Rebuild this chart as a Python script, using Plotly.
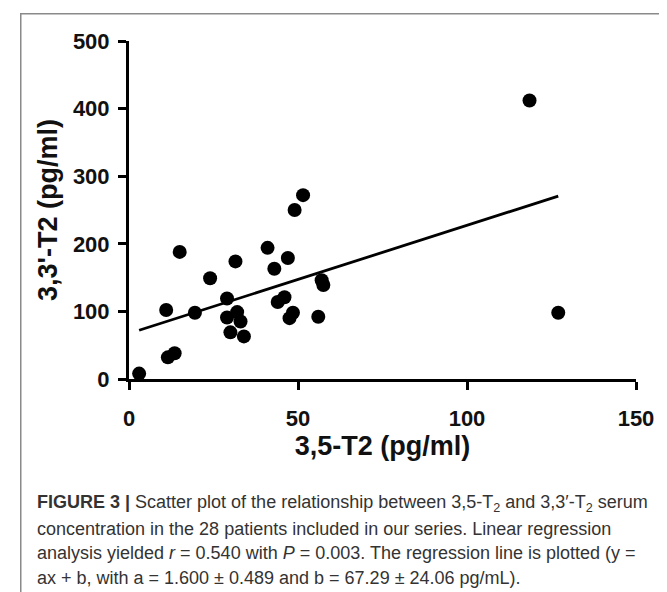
import plotly.graph_objects as go

# Data
x_35T2 = [3, 11, 11.5, 13.5, 15, 19.5, 24, 29, 29, 30, 31.5, 32, 33, 34,
          41, 43, 44, 46, 47, 47.5, 48.5, 49, 51.5, 56, 57, 57.5, 118.5, 127]
y_33T2 = [8, 102, 32, 38, 188, 98, 149, 119, 91, 69, 174, 99, 85, 63,
          194, 163, 114, 121, 179, 90, 98, 250, 272, 92, 146, 139, 412, 98]
slope = 1.600
intercept = 67.29
x_ticks = [0, 50, 100, 150]
y_ticks = [0, 100, 200, 300, 400, 500]
caption_lines = [
    "<b>FIGURE 3 |</b> Scatter plot of the relationship between 3,5-T<sub>2</sub> and 3,3′-T<sub>2</sub> serum",
    "concentration in the 28 patients included in our series. Linear regression",
    "analysis yielded <i>r</i> = 0.540 with <i>P</i> = 0.003. The regression line is plotted (y =",
    "ax + b, with a = 1.600 ± 0.489 and b = 67.29 ± 24.06 pg/mL).",
]

W, H = 667, 592
L, R, T, B = 121, 38.7, 33.3, 221.3
PW, PH = W - L - R, H - T - B


def px(xp):
    return (xp - L) / PW


def py(yp):
    return (H - yp - B) / PH


xmin, xmax = min(x_35T2), max(x_35T2)
line_x = [xmin, xmax]
line_y = [slope * v + intercept for v in line_x]

fig = go.Figure()
fig.add_trace(go.Scatter(x=line_x, y=line_y, mode="lines",
                         line=dict(color="black", width=2.8),
                         showlegend=False, cliponaxis=False))
fig.add_trace(go.Scatter(x=x_35T2, y=y_33T2, mode="markers",
                         marker=dict(color="black", size=14),
                         showlegend=False, cliponaxis=False))

axis_font = dict(family="Liberation Sans, Arial, sans-serif", size=22, color="#111", weight="bold")
title_font = dict(family="Liberation Sans, Arial, sans-serif", size=27, color="#111", weight="bold")

fig.update_xaxes(range=[0, 150], tickvals=x_ticks, showgrid=False, zeroline=False,
                 showline=True, linecolor="black", linewidth=3,
                 ticks="outside", ticklen=8, tickwidth=3, tickcolor="black",
                 tickfont=axis_font, ticklabelstandoff=10,
                 title=dict(text="3,5-T2 (pg/ml)", font=title_font, standoff=4))
fig.update_yaxes(range=[0, 500], tickvals=y_ticks, showgrid=False, zeroline=False,
                 showline=True, linecolor="black", linewidth=3,
                 ticks="outside", ticklen=8, tickwidth=3, tickcolor="black",
                 tickfont=axis_font, ticklabelstandoff=4,
                 title=dict(text="3,3'-T2 (pg/ml)", font=title_font, standoff=8))

annotations = []
centers = [495, 520, 544, 569]
for txt, cy in zip(caption_lines, centers):
    annotations.append(dict(text=txt, x=px(27), y=py(cy), xref="paper", yref="paper",
                            xanchor="left", yanchor="middle", showarrow=False,
                            font=dict(family="Liberation Sans, Arial, sans-serif",
                                      size=18, color="#333")))

fig.update_layout(
    width=W, height=H,
    margin=dict(l=L, r=R, t=T, b=B),
    plot_bgcolor="white", paper_bgcolor="white",
    annotations=annotations,
    shapes=[dict(type="rect", xref="paper", yref="paper",
                 x0=px(12.7), x1=px(665), y0=py(600), y1=py(6),
                 line=dict(color="#8a8a8a", width=1.5), fillcolor="rgba(0,0,0,0)",
                 layer="below")],
)

fig.write_html("out.html")
